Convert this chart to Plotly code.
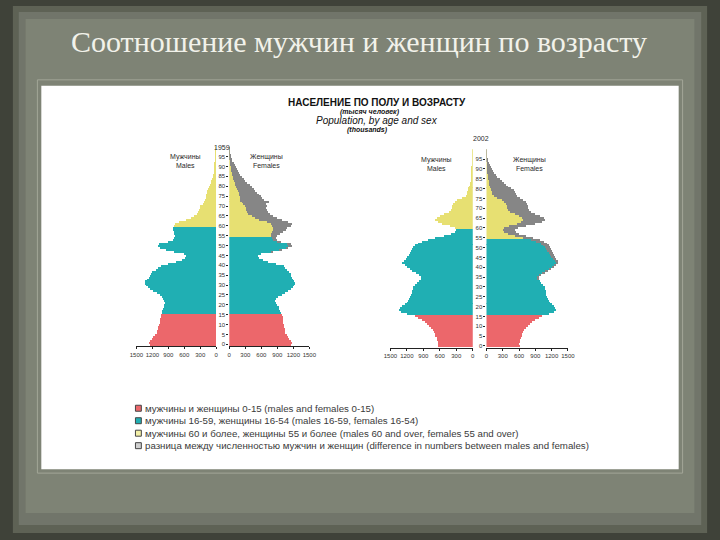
import plotly.graph_objects as go

# ---------------- data (thousands of people, single years of age 0..100) -------------
ages = list(range(0, 101))

males_1959 = [1250, 1260, 1240, 1200, 1180, 1150, 1120, 1110, 1100, 1090, 1080, 1060, 1060, 1050, 1040, 1030,
              1020, 1010, 1000, 990, 980, 970, 980, 1000, 1020, 1060, 1120, 1180, 1240, 1290, 1320, 1340, 1330,
              1300, 1270, 1250, 1230, 1200, 1140, 1090, 1040,
              900, 750, 650, 580, 560, 600, 800, 950, 1060, 1100, 1080, 900, 820, 800, 780, 790, 800, 820, 810,
              800, 780, 700, 560, 480, 420, 360, 340, 320, 310, 300, 250, 230, 210, 200, 195, 190, 180, 170, 150, 130,
              115, 100, 90, 75, 65, 55, 45, 35, 30, 25, 20, 15, 12, 10, 8, 6, 5, 4, 3, 2]

females_1959 = [1160, 1170, 1150, 1110, 1100, 1080, 1050, 1040, 1040, 1030, 1020, 1010, 1010, 1000, 1000, 990,
                960, 950, 940, 930, 900, 870, 860, 880, 920, 980, 1040, 1100, 1160, 1200, 1220, 1230, 1220,
                1200, 1180, 1160, 1150, 1120, 1080, 1050, 1020,
                880, 720, 640, 560, 530, 600, 820, 980, 1100, 1180, 1160, 960, 900, 880, 900, 950, 1000, 1060, 1080,
                1150, 1180, 1100, 980, 900, 820, 760, 720, 700, 690, 700, 690, 740, 650, 620, 600, 560, 520, 490, 460, 420,
                380, 340, 300, 270, 240, 210, 185, 160, 140, 120, 100, 80, 60, 45, 35, 25, 18, 12, 8, 5]

males_2002 = [640, 630, 640, 650, 660, 680, 690, 700, 720, 760, 800, 830, 870, 930, 1000, 1060,
              1200, 1300, 1340, 1320, 1280, 1230, 1200, 1180, 1160, 1140, 1120, 1100, 1100, 1090, 1080, 1060, 1020,
              980, 950, 950, 980, 1040, 1100, 1150, 1200,
              1240, 1280, 1260, 1220, 1190, 1170, 1150, 1120, 1100, 1080, 1050, 1000, 920, 820, 680, 520, 400, 320, 300,
              320, 420, 560, 640, 680, 660, 600, 520, 440, 400, 380, 370, 360, 330, 280, 200, 130, 110, 100, 90, 80,
              60, 50, 45, 40, 30, 25, 20, 15, 12, 10, 8, 6, 5, 4, 3, 2, 2, 1, 1, 1]

females_2002 = [610, 600, 610, 620, 630, 650, 660, 670, 690, 730, 770, 800, 840, 900, 970, 1030,
                1160, 1250, 1290, 1270, 1240, 1200, 1170, 1150, 1130, 1110, 1100, 1090, 1090, 1080, 1070, 1050, 1010,
                980, 960, 960, 1000, 1070, 1130, 1190, 1240,
                1290, 1320, 1310, 1280, 1260, 1240, 1220, 1200, 1180, 1170, 1150, 1120, 1060, 980, 860, 720, 600, 540, 520,
                580, 720, 900, 1020, 1070, 1060, 980, 900, 820, 780, 760, 760, 750, 720, 680, 620, 560, 540, 520, 500, 460,
                400, 360, 320, 280, 240, 200, 170, 140, 120, 100, 80, 60, 45, 35, 25, 18, 12, 8, 5, 3]

x_ticks = [0, 300, 600, 900, 1200, 1500]
age_ticks = list(range(0, 100, 5))

legend_labels = [
    "мужчины и женщины 0-15 (males and females 0-15)",
    "мужчины 16-59, женщины 16-54 (males 16-59, females 16-54)",
    "мужчины 60 и более, женщины 55 и более (males 60 and over, females 55 and over)",
    "разница между численностью мужчин и женщин (difference in numbers between males and females)",
]

# ---------------- styles ----------------
RED = "#ec676b"
TEAL = "#20afb3"
YELLOW = "#e7e072"
GRAY = "#868686"
TXT = "#2a2a2a"
W, H = 720, 540


def X(p):
    return p / W


def Y(p):
    return 1 - p / H


def male_colors():
    return [RED if a <= 15 else (TEAL if a <= 59 else YELLOW) for a in ages]


def female_colors():
    return [RED if a <= 15 else (TEAL if a <= 54 else YELLOW) for a in ages]


fig = go.Figure()


def add_pyramid(males, females, xm, xf, ya):
    fig.add_trace(go.Bar(y=ages, x=males, orientation="h", xaxis=xm, yaxis=ya,
                         marker=dict(color=male_colors(), line=dict(width=0)),
                         showlegend=False, hoverinfo="x+y"))
    common = [min(f, m) for f, m in zip(females, males)]
    excess = [f - c for f, c in zip(females, common)]
    fig.add_trace(go.Bar(y=ages, x=common, orientation="h", xaxis=xf, yaxis=ya,
                         marker=dict(color=female_colors(), line=dict(width=0)),
                         showlegend=False, hoverinfo="x+y"))
    fig.add_trace(go.Bar(y=ages, x=excess, orientation="h", xaxis=xf, yaxis=ya,
                         marker=dict(color=GRAY, line=dict(width=0)),
                         showlegend=False, hoverinfo="x+y"))


add_pyramid(males_1959, females_1959, "x", "x2", "y")
add_pyramid(males_2002, females_2002, "x3", "x4", "y2")

tickfont = dict(family="Liberation Sans", size=6, color="#333")


def xaxis(d0, d1, rev, anchor):
    return dict(domain=[X(d0), X(d1)], range=[1500, 0] if rev else [0, 1500], anchor=anchor,
                tickvals=x_ticks, ticktext=[str(v) for v in x_ticks], tickfont=tickfont, tickangle=0,
                showline=True, linecolor="#222", linewidth=1, ticks="outside", ticklen=2,
                tickcolor="#222", showgrid=False, zeroline=False, fixedrange=True)


def yaxis(top, bottom, anchor):
    return dict(domain=[Y(bottom), Y(top)], range=[-1, 100], anchor=anchor, side="left",
                tickvals=age_ticks, ticktext=[str(v) for v in age_ticks], tickfont=tickfont,
                ticks="outside", ticklen=2, tickcolor="#222", showline=False, showgrid=False,
                zeroline=False, fixedrange=True)


shapes = [
    dict(type="rect", xref="paper", yref="paper", x0=X(6), x1=X(714), y0=Y(534), y1=Y(6),
         fillcolor="#5e6255", line=dict(width=0), layer="below"),
    dict(type="rect", xref="paper", yref="paper", x0=X(12), x1=X(708), y0=Y(526), y1=Y(12),
         fillcolor="#71756a", line=dict(width=0), layer="below"),
    dict(type="rect", xref="paper", yref="paper", x0=X(19), x1=X(701), y0=Y(514), y1=Y(19),
         fillcolor="#7e8375", line=dict(width=0), layer="below"),
    dict(type="rect", xref="paper", yref="paper", x0=X(31), x1=X(689), y0=Y(474), y1=Y(80),
         fillcolor="rgba(0,0,0,0)", line=dict(color="#a3a698", width=1), layer="below"),
    dict(type="rect", xref="paper", yref="paper", x0=X(35), x1=X(685), y0=Y(470), y1=Y(86),
         fillcolor="#ffffff", line=dict(width=0), layer="below"),
]

annotations = [
    dict(text="Соотношение мужчин и женщин по возрасту", x=X(359), y=Y(42),
         font=dict(family="Liberation Serif", size=30, color="#f2f2ea")),
    dict(text="<b>НАСЕЛЕНИЕ ПО ПОЛУ И ВОЗРАСТУ</b>", x=X(377), y=Y(103),
         font=dict(family="Liberation Sans", size=10, color="#111")),
    dict(text="<b><i>(тысяч человек)</i></b>", x=X(370), y=Y(112),
         font=dict(family="Liberation Sans", size=7, color="#111")),
    dict(text="<i>Population, by age and sex</i>", x=X(377), y=Y(121),
         font=dict(family="Liberation Sans", size=10, color="#111")),
    dict(text="<b><i>(thousands)</i></b>", x=X(368), y=Y(130),
         font=dict(family="Liberation Sans", size=7, color="#111")),
    dict(text="1959", x=X(219), y=Y(148), font=dict(family="Liberation Sans", size=7, color=TXT)),
    dict(text="2002", x=X(483), y=Y(139), font=dict(family="Liberation Sans", size=7, color=TXT)),
    dict(text="Мужчины<br>Males", x=X(182), y=Y(161), font=dict(family="Liberation Sans", size=7, color=TXT)),
    dict(text="Женщины<br>Females", x=X(265), y=Y(161), font=dict(family="Liberation Sans", size=7, color=TXT)),
    dict(text="Мужчины<br>Males", x=X(438), y=Y(164), font=dict(family="Liberation Sans", size=7, color=TXT)),
    dict(text="Женщины<br>Females", x=X(533), y=Y(164), font=dict(family="Liberation Sans", size=7, color=TXT)),
]
for a in annotations:
    a.update(xref="paper", yref="paper", xanchor="center", yanchor="middle", showarrow=False)

legend_colors = [RED, TEAL, "#f3f0a8", "#d0d0d0"]
row_y = [409, 421.5, 434, 446.5]
for lbl, col, ry in zip(legend_labels, legend_colors, row_y):
    shapes.append(dict(type="rect", xref="paper", yref="paper", x0=X(131), x1=X(137), y0=Y(ry + 3), y1=Y(ry - 3),
                       fillcolor=col, line=dict(color="#444", width=1)))
    annotations.append(dict(text=lbl, x=X(138.5), y=Y(ry), xref="paper", yref="paper", xanchor="left",
                            yanchor="middle", showarrow=False,
                            font=dict(family="Liberation Sans", size=9.7, color="#3a3a3a")))

fig.update_layout(
    width=W, height=H, margin=dict(l=0, r=0, t=0, b=0),
    paper_bgcolor="#3f4239", plot_bgcolor="rgba(0,0,0,0)",
    barmode="stack", bargap=0.35, showlegend=False,
    xaxis=xaxis(132, 213.3, True, "y"),
    xaxis2=xaxis(226.7, 308.3, False, "y"),
    xaxis3=xaxis(391, 475, True, "y2"),
    xaxis4=xaxis(489, 572, False, "y2"),
    yaxis=yaxis(147, 347, "x2"),
    yaxis2=yaxis(149.5, 348.5, "x4"),
    shapes=shapes, annotations=annotations,
)

fig.write_html("out.html", config={"displayModeBar": False},
               post_script="document.body.style.margin='0';document.body.style.overflow='hidden';")
